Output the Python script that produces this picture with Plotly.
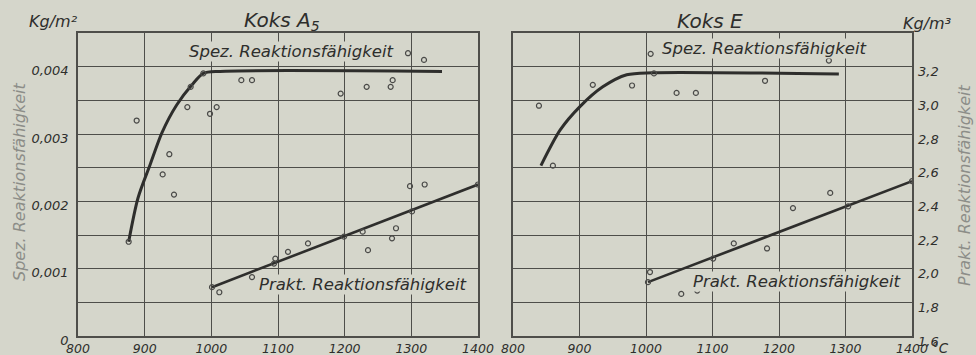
import plotly.graph_objects as go

# ---------------- data ----------------
# Left panel: Koks A5
a5_spez_curve_t = [876, 890, 908, 926, 948, 971, 988, 1013, 1346]
a5_spez_curve_v = [0.0014, 0.00205, 0.00254, 0.00302, 0.00343, 0.00373, 0.0039,
                   0.00393, 0.00393]
a5_spez_pts_t = [876, 888, 927, 937, 944, 964, 969, 988, 998, 1008, 1045, 1061,
                 1194, 1233, 1269, 1272, 1295, 1319]
a5_spez_pts_v = [0.0014, 0.0032, 0.0024, 0.0027, 0.0021, 0.0034, 0.0037, 0.0039,
                 0.0033, 0.0034, 0.0038, 0.0038, 0.0036, 0.0037, 0.0037, 0.0038,
                 0.0042, 0.0041]
a5_prakt_line_t = [1001, 1400]
a5_prakt_line_v = [1.89, 2.50]
a5_prakt_pts_t = [1001, 1012, 1061, 1094, 1096, 1115, 1145, 1199, 1227, 1235,
                  1271, 1277, 1298, 1301, 1320, 1400]
a5_prakt_pts_v = [1.89, 1.86, 1.95, 2.03, 2.06, 2.10, 2.15, 2.19, 2.22, 2.11,
                  2.18, 2.24, 2.49, 2.34, 2.50, 2.50]

# Right panel: Koks E
e_spez_curve_t = [842, 871, 901, 935, 971, 1010, 1290]
e_spez_curve_v = [0.00253, 0.00306, 0.00341, 0.0037, 0.00388, 0.00391, 0.00389]
e_spez_pts_t = [839, 860, 920, 979, 1007, 1012, 1046, 1075, 1179, 1275]
e_spez_pts_v = [0.00342, 0.00253, 0.00373, 0.00372, 0.00419, 0.0039, 0.00361,
                0.00361, 0.00379, 0.00409]
e_prakt_line_t = [1003, 1400]
e_prakt_line_v = [1.92, 2.52]
e_prakt_pts_t = [1003, 1006, 1053, 1077, 1101, 1132, 1182, 1221, 1277, 1304, 1400]
e_prakt_pts_v = [1.92, 1.98, 1.85, 1.87, 2.06, 2.15, 2.12, 2.36, 2.45, 2.37, 2.52]

temp_ticks = [800, 900, 1000, 1100, 1200, 1300, 1400]
temp_left_labels = ["800", "900", "1000", "1100", "1200", "1300", "1400"]
temp_right_labels = ["800", "900", "1000", "1100", "1200", "1300", "1400"]
spez_ticks = [0, 0.001, 0.002, 0.003, 0.004]
spez_labels = ["0", "0,001", "0,002", "0,003", "0,004"]
prakt_ticks = [1.6, 1.8, 2.0, 2.2, 2.4, 2.6, 2.8, 3.0, 3.2]
prakt_labels = ["1,6", "1,8", "2,0", "2,2", "2,4", "2,6", "2,8", "3,0", "3,2"]

# ---------------- style ----------------
BG = "#d5d6cb"
GRID = "#4e4e4a"
INK = "#2e2e2c"
FADED = "#8c8d88"
FONT = "DejaVu Sans"

fig = go.Figure()

def curve(t, v, xa, ya):
    fig.add_trace(go.Scatter(x=t, y=v, xaxis=xa, yaxis=ya, mode="lines",
                             line=dict(color=INK, width=3, shape="spline", smoothing=0.8),
                             hoverinfo="skip", showlegend=False))

def line(t, v, xa, ya):
    fig.add_trace(go.Scatter(x=t, y=v, xaxis=xa, yaxis=ya, mode="lines",
                             line=dict(color=INK, width=2.6),
                             hoverinfo="skip", showlegend=False))

def pts(t, v, xa, ya):
    fig.add_trace(go.Scatter(x=t, y=v, xaxis=xa, yaxis=ya, mode="markers",
                             marker=dict(symbol="circle-open", size=5,
                                         color="#4a4a48", line=dict(width=1.2)),
                             hoverinfo="skip", showlegend=False))

curve(a5_spez_curve_t, a5_spez_curve_v, "x", "y")
pts(a5_spez_pts_t, a5_spez_pts_v, "x", "y")
line(a5_prakt_line_t, a5_prakt_line_v, "x", "y3")
pts(a5_prakt_pts_t, a5_prakt_pts_v, "x", "y3")

curve(e_spez_curve_t, e_spez_curve_v, "x2", "y2")
pts(e_spez_pts_t, e_spez_pts_v, "x2", "y2")
line(e_prakt_line_t, e_prakt_line_v, "x2", "y4")
pts(e_prakt_pts_t, e_prakt_pts_v, "x2", "y4")

W, H = 976, 355
ydom = [(H - 336) / H, (H - 33) / H]
xdom1 = [78 / W, 478 / W]
xdom2 = [513 / W, 912 / W]
ytickfont = dict(family=FONT, size=13, color=INK, style="italic")
xtickfont = dict(family=FONT, size=12.5, color=INK, style="italic")

xcommon = dict(range=[800, 1400], tickmode="array", tickvals=temp_ticks,
               showgrid=True, gridcolor=GRID, gridwidth=1.4, zeroline=False,
               showline=True, linecolor=GRID, linewidth=1.6, mirror=True,
               ticks="", tickfont=xtickfont, automargin=False, ticklabelstandoff=0)
ycommon = dict(range=[0, 0.0045], tickmode="array", tickvals=spez_ticks,
               showgrid=True, gridcolor=GRID, gridwidth=1.4, zeroline=False,
               minor=dict(tick0=0, dtick=0.0005, showgrid=True, gridcolor=GRID,
                          gridwidth=1.4, ticks=""),
               showline=True, linecolor=GRID, linewidth=1.6, mirror=True,
               ticks="", tickfont=ytickfont, domain=ydom, automargin=False)

fig.update_layout(
    width=W, height=H,
    margin=dict(l=0, r=0, t=0, b=0, pad=0),
    paper_bgcolor=BG, plot_bgcolor=BG,
    font=dict(family=FONT, color=INK, style="italic"),
    xaxis=dict(**xcommon, domain=xdom1, anchor="y", ticktext=temp_left_labels),
    yaxis=dict(**ycommon, anchor="x", ticktext=spez_labels, ticklabelstandoff=5,
               ticklabelshift=4),
    xaxis2=dict(**xcommon, domain=xdom2, anchor="y2", ticktext=temp_right_labels),
    yaxis2=dict(**ycommon, anchor="x2", showticklabels=False),
    yaxis3=dict(range=[1.6, 3.4], overlaying="y", anchor="x", side="right",
                showgrid=False, showticklabels=False, zeroline=False, domain=ydom,
                automargin=False),
    yaxis4=dict(range=[1.6, 3.4], overlaying="y2", anchor="x2", side="right",
                tickmode="array", tickvals=prakt_ticks, ticktext=prakt_labels,
                showgrid=False, zeroline=False, ticks="", tickfont=ytickfont,
                ticklabelstandoff=5, ticklabelshift=5, domain=ydom, automargin=False),
)

def label(text, x, y, size=14, color=INK, angle=0, bg=None):
    fig.add_annotation(text=text, x=x / W, y=1 - y / H, xref="paper", yref="paper",
                       xanchor="center", yanchor="middle",
                       showarrow=False, textangle=angle,
                       font=dict(family=FONT, size=size, color=color, style="italic"),
                       bgcolor=bg, borderpad=0)

label("Kg/m²", 53, 21, size=16)
label("Koks A<sub>5</sub>", 282, 21, size=20)
label("Koks E", 710, 21, size=20)
label("Kg/m³", 927, 23, size=16)
label("Spez. Reaktionsfähigkeit", 291, 51, size=16.5, bg=BG)
label("Prakt. Reaktionsfähigkeit", 363, 284, size=16.5, bg=BG)
label("Spez. Reaktionsfähigkeit", 764, 48, size=16.5, bg=BG)
label("Prakt. Reaktionsfähigkeit", 797, 281, size=16.5, bg=BG)
label("Spez. Reaktionsfähigkeit", 19, 182, size=16, color=FADED, angle=-90)
label("Prakt. Reaktionsfähigkeit", 964, 186, size=16, color=FADED, angle=-90)
label("°C", 940, 348, size=13.5)

fig.write_html("out.html", post_script="document.body.style.margin='0';",
               config={"displayModeBar": False})
